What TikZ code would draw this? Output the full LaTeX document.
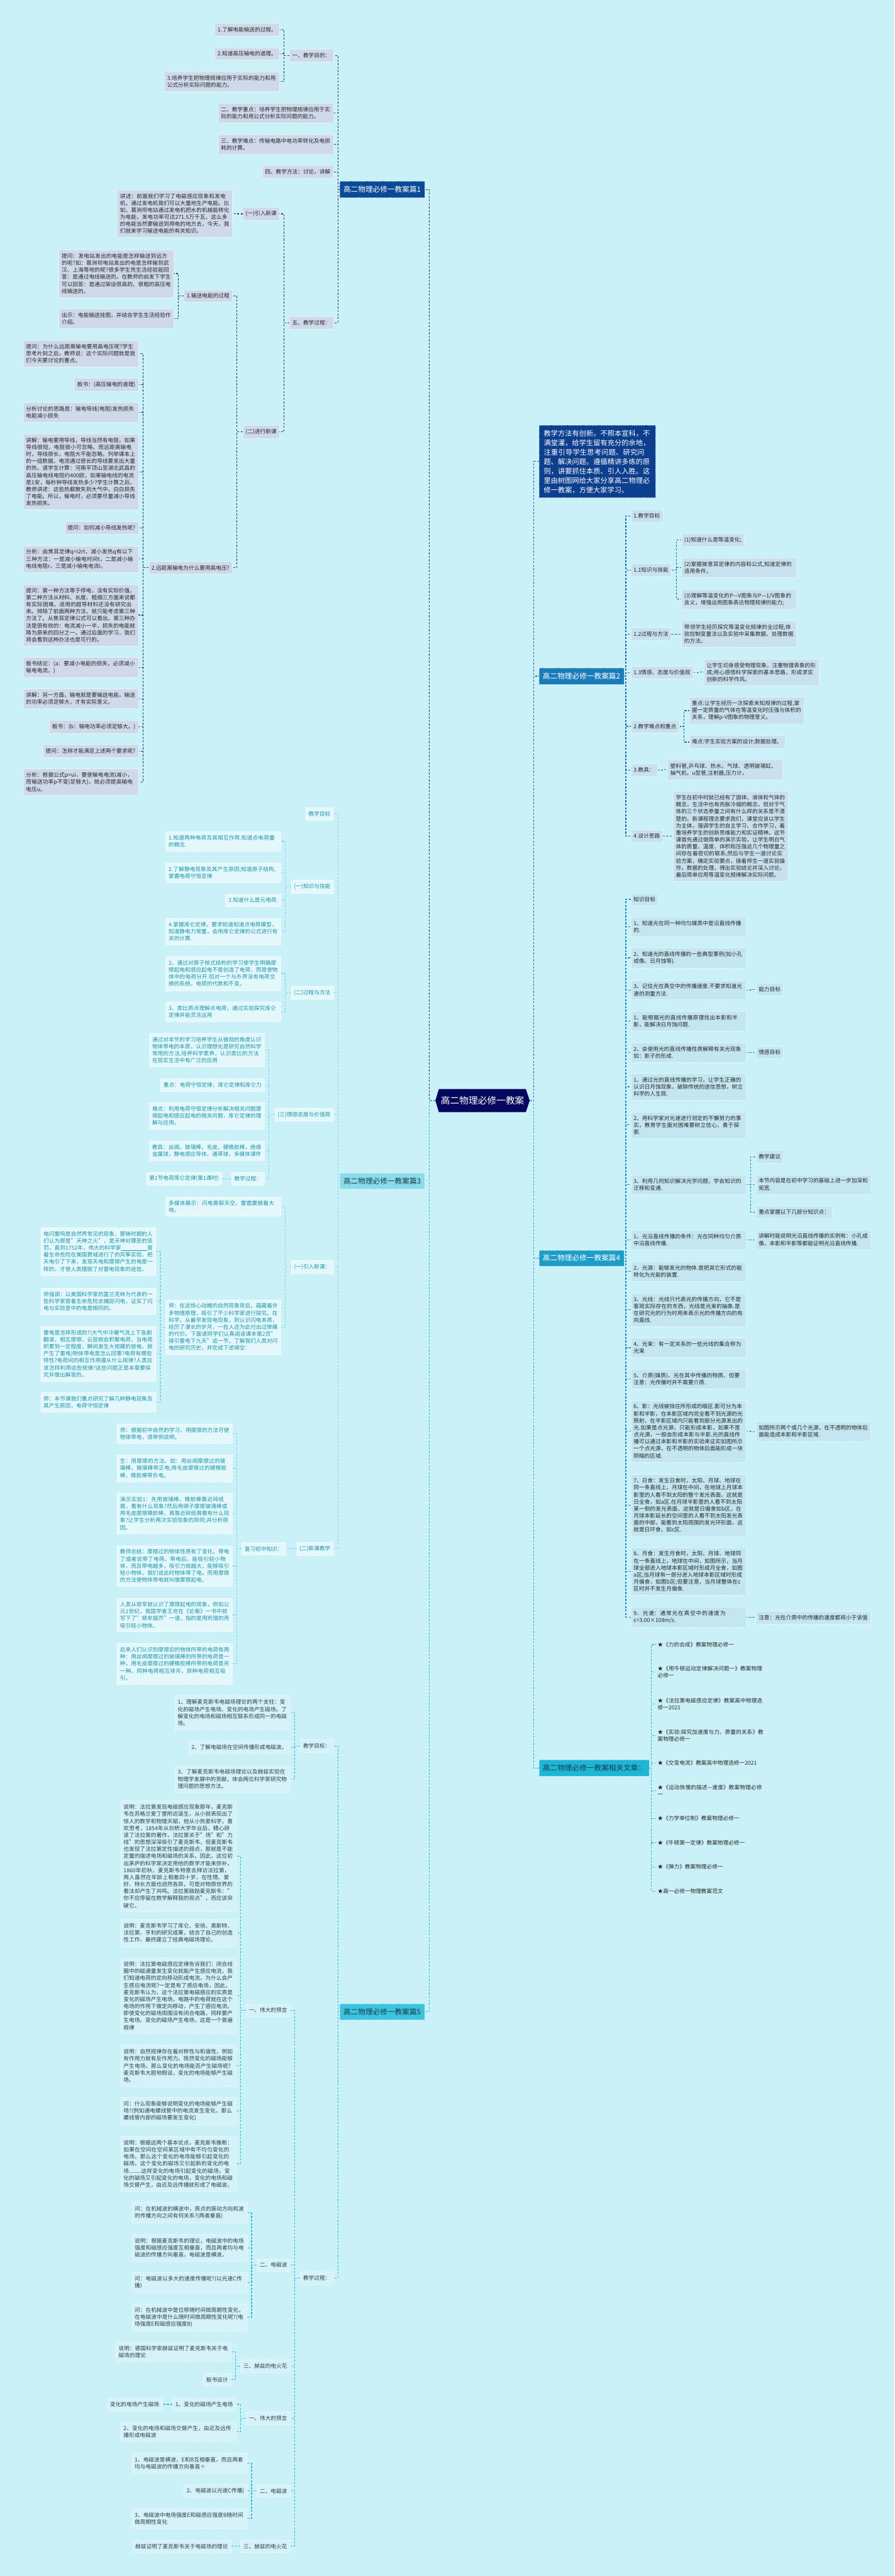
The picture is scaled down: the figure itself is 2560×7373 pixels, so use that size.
\documentclass[tikz,border=0pt]{standalone}
\usepackage{fontspec}
\setmainfont{Noto Sans CJK SC}
\XeTeXlinebreaklocale "zh"
\XeTeXlinebreakskip=0pt plus 1pt
\usetikzlibrary{calc}
\definecolor{bgc}{HTML}{CBF1F8}
\definecolor{n1}{HTML}{1E3A66}
\definecolor{n2}{HTML}{1F6A9E}
\definecolor{n3}{HTML}{7CD2E2}
\definecolor{n4}{HTML}{1B8DB8}
\definecolor{n5}{HTML}{35B5CF}
\definecolor{n6}{HTML}{2AB1CE}
\definecolor{f1}{HTML}{CFD9EA}
\definecolor{f2}{HTML}{C9E1EE}
\definecolor{f3}{HTML}{E4F8FB}
\definecolor{f4}{HTML}{C3E6F0}
\definecolor{f5}{HTML}{D5F2F8}
\definecolor{x3}{HTML}{1A93A8}
\definecolor{x5}{HTML}{2B3F47}
\definecolor{xd}{HTML}{262626}
\definecolor{lab1}{HTML}{0B4A96}
\definecolor{lab2}{HTML}{1B7BB8}
\definecolor{lab3}{HTML}{8BDBEA}
\definecolor{lab4}{HTML}{1C9DC7}
\definecolor{lab5}{HTML}{3CC3DE}
\definecolor{lab6}{HTML}{1EB6D6}
\definecolor{labt}{HTML}{163E4C}
\definecolor{descf}{HTML}{0D3F8E}
\definecolor{ctr}{HTML}{06075E}
\pgfdeclarelayer{back}
\pgfdeclarelayer{lines}
\pgfsetlayers{back,lines,main}
\newcommand{\fs}{\fontsize{15.6pt}{20.1pt}\selectfont}
\newcommand{\lnk}[3]{\draw[#1] (#2.west) -| ([xshift=13pt]#3.east) -- (#3.east);}
\newcommand{\rnk}[3]{\draw[#1] (#2.east) -| ([xshift=-14pt]#3.west) -- (#3.west);}
\begin{document}
\begin{tikzpicture}[x=1pt,y=-1pt,
  box/.style={rectangle, inner xsep=8pt, inner ysep=10.5pt, align=left, font=\fs, line width=0.7pt, dash pattern=on 3pt off 2pt},
  w/.style={text width=313pt},
  t1/.style={box, fill=f1, draw=white!70!f1, text=xd, anchor=east},
  t2/.style={box, fill=f2, draw=white!70!f2, text=xd, anchor=west},
  t3/.style={box, fill=f3, draw=white, text=x3, anchor=east},
  t4/.style={box, fill=f4, draw=white!70!f4, text=xd, anchor=west},
  t5/.style={box, fill=f5, draw=white!70!f5, text=x5, anchor=east},
  rt/.style={rectangle, inner xsep=4pt, inner ysep=4pt, align=left, font=\fs, text=xd, anchor=west, text width=306pt},
  lab/.style={rectangle, inner xsep=11pt, minimum height=46pt, font=\fontsize{21pt}{26pt}\selectfont, line width=0.8pt, dash pattern=on 3pt off 2pt},
  ln/.style={line width=2pt, dash pattern=on 6pt off 4pt},
  l1/.style={ln, draw=n1}, l2/.style={ln, draw=n2}, l3/.style={ln, draw=n3},
  l4/.style={ln, draw=n4}, l5/.style={ln, draw=n5}, l6/.style={ln, draw=n6}
]
\begin{pgfonlayer}{back}
\fill[bgc] (0,0) rectangle (2560,7373);
\end{pgfonlayer}
\useasboundingbox (0,0) rectangle (2560,7373);

% ---------- centre ----------
\fill[ctr] (1246,3150) -- (1256,3117) -- (1505,3117) -- (1516,3150) -- (1505,3183) -- (1256,3183) -- cycle;
\node[minimum width=270pt, minimum height=66pt, text=white, font=\fontsize{26.5pt}{30pt}\selectfont] (cn) at (1381,3150) {高二物理必修一教案};

% ---------- branch labels ----------
\node[lab, fill=lab1, draw=white!60!lab1, text=white, anchor=east] (P1) at (1216,542) {高二物理必修一教案篇1};
\node[lab, fill=lab3, draw=white!60!lab3, text=labt, anchor=east] (P3) at (1216,3380) {高二物理必修一教案篇3};
\node[lab, fill=lab5, draw=white!60!lab5, text=labt, anchor=east] (P5) at (1216,5758) {高二物理必修一教案篇5};
\node[rectangle, fill=descf, draw=white!55!descf, dash pattern=on 3pt off 2pt, line width=0.8pt, text=white, font=\fontsize{20.2pt}{27pt}\selectfont, text width=306pt, inner xsep=14pt, inner ysep=13pt, align=left, anchor=west] (desc) at (1542,1321) {教学方法有创新。不照本宣科，不满堂灌，给学生留有充分的余地，注重引导学生思考问题、研究问题、解决问题。遵循精讲多练的原则，讲要抓住本质、引人入胜。这里由树图网给大家分享高二物理必修一教案，方便大家学习。};
\node[lab, fill=lab2, draw=white!60!lab2, text=white, anchor=west] (P2) at (1542,1935) {高二物理必修一教案篇2};
\node[lab, fill=lab4, draw=white!60!lab4, text=white, anchor=west] (P4) at (1542,3601) {高二物理必修一教案篇4};
\node[lab, fill=lab6, draw=white!60!lab6, text=labt, anchor=west] (P6) at (1542,5060) {高二物理必修一教案相关文章：};

% ---------- 篇1 ----------
\node[t1] (a1) at (954,159) {一、教学目的：};
\node[t1,w] (a2) at (954,323.5) {二、教学重点：培养学生把物理规律应用于实际的能力和用公式分析实际问题的能力。};
\node[t1,w] (a3) at (954,413) {三、教学难点：传输电路中电功率转化及电损耗的计算。};
\node[t1] (a4) at (954,492) {四、教学方法：讨论，讲解};
\node[t1] (a5) at (954,924) {五、教学过程：};
\node[t1] (a1a) at (800,85) {1.了解电能输送的过程。};
\node[t1] (a1b) at (800,154) {2.知道高压输电的道理。};
\node[t1,w] (a1c) at (800,233.5) {3.培养学生把物理规律应用于实际的能力和用公式分析实际问题的能力。};
\node[t1] (a5a) at (800,612) {(一)引入新课};
\node[t1] (a5b) at (800,1236) {(二)进行新课};
\node[t1,w] (a5a1) at (665,611.5) {讲述：前面我们学习了电磁感应现象和发电机，通过发电机我们可以大量地生产电能。比如，葛洲坝电站通过发电机把水的机械能转化为电能，发电功率可达271.5万千瓦，这么多的电能当然要输送到用电的地方去，今天，我们就来学习输送电能的有关知识。};
\node[t1] (a5b1) at (665,847) {1.输送电能的过程};
\node[t1] (a5b2) at (665,1625) {2.远距离输电为什么要用高电压?};
\node[t1,w] (b1) at (498,783) {提问：发电站发出的电能是怎样输送到远方的呢?如：葛洲坝电站发出的电是怎样输到武汉、上海等地的呢?很多学生凭生活经验能回答：是通过电线输送的。在教师的启发下学生可以回答：是通过架设很高的、很粗的高压电线输送的。};
\node[t1,w] (b2) at (498,912.5) {出示：电能输送挂图，并结合学生生活经验作介绍。};
\node[t1,w] (c1) at (396,1012) {提问：为什么远距离输电要用高电压呢?学生思考片刻之后，教师说：这个实际问题就是我们今天要讨论的重点。};
\node[t1] (c2) at (396,1101) {板书：(高压输电的道理)};
\node[t1,w] (c3) at (396,1180.5) {分析讨论的思路是：输电导线(电阻)发热损失电能减小损失};
\node[t1,w] (c4) at (396,1350.5) {讲解：输电要用导线，导线当然有电阻，如果导线很短，电阻很小可忽略，而远距离输电时，导线很长，电阻大不能忽略。列举课本上的一组数据。电流通过很长的导线要发出大量的热，请学生计算：河南平顶山至湖北武昌的高压输电线电阻约400欧，如果输电线的电流是1安，每秒钟导线发热多少?学生计算之后，教师讲述：这些热都散失到大气中，白白损失了电能。所以，输电时，必须要尽量减小导线发热损失。};
\node[t1] (c5) at (396,1510.5) {提问：如何减小导线发热呢?};
\node[t1,w] (c6) at (396,1600) {分析：由焦耳定律q=i2rt，减小发热q有以下三种方法：一是减小输电时间t，二是减小输电线电阻r，三是减小输电电流i。};
\node[t1,w] (c7) at (396,1760.5) {提问：第一种方法等于停电，没有实际价值。第二种方法从材料、长度、粗细三方面来说都有实际困难。适用的超导材料还没有研究出来。排除了前面两种方法，就只能考虑第三种方法了。从焦耳定律公式可以看出。第三种办法是很有效的：电流减小一半，损失的电能就降为原来的四分之一。通过后面的学习，我们将会看到这种办法也是可行的。};
\node[t1,w] (c8) at (396,1910.5) {板书结论：(a：要减小电能的损失，必须减小输电电流。)};
\node[t1,w] (c9) at (396,2000) {讲解：另一方面，输电就是要输送电能，输送的功率必须足够大，才有实际意义。};
\node[t1] (c10) at (396,2080) {板书：(b：输电功率必须足够大。)};
\node[t1] (c11) at (396,2149.5) {提问：怎样才能满足上述两个要求呢?};
\node[t1,w] (c12) at (396,2238.5) {分析：根据公式p=ui，要使输电电流i减小，而输送功率p不变(足够大)，就必须提高输电电压u。};

% ---------- 篇3 ----------
\node[t3] (d0) at (954,2329) {教学目标};
\node[t3] (d1) at (954,2537) {(一)知识与技能};
\node[t3] (d2) at (954,2841) {(二)过程与方法};
\node[t3] (d3) at (954,3190) {(三)情感态度与价值观};
\node[t3] (d4) at (954,3626) {(一)引入新课：};
\node[t3] (d5) at (954,4433) {(二)新课教学};
\node[t3,w] (d1a) at (804,2408.5) {1.知道两种电荷及其相互作用.知道点电荷量的概念.};
\node[t3,w] (d1b) at (804,2497.5) {2.了解静电现象及其产生原因;知道原子结构,掌握电荷守恒定律};
\node[t3] (d1c) at (804,2577) {3.知道什么是元电荷.};
\node[t3,w] (d1d) at (804,2666) {4.掌握库仑定律，要求知道知道点电荷模型，知道静电力常量，会用库仑定律的公式进行有关的计算.};
\node[t3,w] (d2a) at (804,2786.5) {2、通过对原子核式结构的学习使学生明确摩擦起电和感应起电不是创造了电荷，而是使物体中的电荷分开.但对一个与外界没有电荷交换的系统，电荷的代数和不变。};
\node[t3,w] (d2b) at (804,2895.5) {3、类比质点理解点电荷，通过实验探究库仑定律并能灵活运用};
\node[t3,w] (d3a) at (757,3005.5) {通过对本节的学习培养学生从微观的角度认识物体带电的本质，认识理想化是研究自然科学常用的方法,培养科学素养，认识类比的方法在现实生活中有广泛的应用};
\node[t3] (d3b) at (757,3106) {重点：电荷守恒定律，库仑定律和库仑力};
\node[t3,w] (d3c) at (757,3194) {难点：利用电荷守恒定律分析解决相关问题摩擦起电和感应起电的相关问题，库仑定律的理解与应用。};
\node[t3,w] (d3d) at (757,3293) {教具：丝绸，玻璃棒，毛皮，硬橡胶棒，绝缘金属球，静电感应导体，通草球，多媒体课件};
\node[t3] (d3e) at (757,3373.5) {教学过程：};
\node[t3] (d3e1) at (635,3373.5) {第1节电荷库仑定律(第1课时)};
\node[t3,w] (d4a) at (804,3453) {多媒体展示：闪电撕裂天空，雷霆震撼着大地。};
\node[t3,w] (d4b) at (804,3798.5) {师：在这惊心动魄的自然现象背后，蕴藏着许多物理原理，吸引了不少科学家进行探究。在科学，从最早发现电现象，到认识闪电本质，经历了漫长的岁月，一些人还为此付出过惨痛的代价。下面请同学们认真阅读课本第2页"接引雷电下九天"这一节，了解我们人类对闪电的研究历史，并完成下述填空：};
\node[t3,w] (d4b1) at (446,3582) {电闪雷鸣是自然界常见的现象，蒙昧时期的人们认为那是"天神之火"，是天神对罪恶的惩罚，直到1752年，伟大的科学家\underline{\hspace{75pt}}冒着生命危险在美国费城进行了的风筝实验，把天电引了下来，发现天电和摩擦产生的电是一样的，才使人类摆脱了对雷电现象的迷信。};
\node[t3,w] (d4b2) at (446,3724.5) {师强调：以美国科学家的富兰克林为代表的一些科学家冒着生命危险去捕捉闪电，证实了闪电与实验室中的电是相同的。};
\node[t3,w] (d4b3) at (446,3874.5) {雷电是怎样形成的?(大气中冷暖气流上下急剧翻滚，相互摩擦，云层就会积聚电荷，当电荷积累到一定程度，瞬间发生大规模的放电，就产生了雷电)物体带电是怎么回事?电荷有哪些特性?电荷间的相互作用遵从什么规律?人类应该怎样利用这些规律?这些问题正是本章要探究并做出解答的。};
\node[t3,w] (d4b4) at (446,4013.5) {师：本节课我们重点研究了解几种静电现象及其产生原因，电荷守恒定律};
\node[t3] (d5a) at (818,4433) {复习初中知识：};
\node[t3,w] (d5a1) at (665,4103) {师：根据初中自然的学习，用摩擦的方法可使物体带电，请举例说明。};
\node[t3,w] (d5a2) at (665,4202.5) {生：用摩擦的方法。如：用丝绸摩擦过的玻璃棒，玻璃棒带正电;用毛皮摩擦过的硬橡胶棒，橡胶棒带负电。};
\node[t3,w] (d5a3) at (665,4331.5) {演示实验1：先用玻璃棒、橡胶棒靠近碎纸屑，看有什么现象?然后用绸子摩擦玻璃棒或用毛皮摩擦橡胶棒，再靠近碎纸屑看有什么现象?让学生分析两次实验现象的异同;并分析原因。};
\node[t3,w] (d5a4) at (665,4482) {教师总结：摩擦过的物体性质有了变化，带电了或者说带了电荷。带电后，能吸引轻小物体，而且带电越多，吸引力就越大，能够吸引轻小物体，我们说此时物体带了电。而用摩擦的方法使物体带电就叫做摩擦起电。};
\node[t3,w] (d5a5) at (665,4622.5) {人类从很早就认识了摩擦起电的现象，例如公元1世纪，我国学者王充在《论衡》一书中就写下了"顿牟掇芥"一语，指的是用玳瑁的壳吸引轻小物体。};
\node[t3,w] (d5a6) at (665,4762) {后来人们认识到摩擦后的物体所带的电荷有两种：用丝绸摩擦过的玻璃棒的所带的电荷是一种，用毛皮摩擦过的硬橡胶棒所带的电荷是另一种。同种电荷相互排斥，异种电荷相互吸引。};

% ---------- 篇5 ----------
\node[t5] (e1) at (954,4997) {教学目标：};
\node[t5] (e2) at (954,6520) {教学过程：};
\node[t5,w] (e1a) at (830,4902) {1、理解麦克斯韦电磁场理论的两个支柱：变化的磁场产生电场、变化的电场产生磁场。了解变化的电场和磁场相互联系形成同一的电磁场。};
\node[t5] (e1b) at (830,5001.5) {2、了解电磁场在空间传播形成电磁波。};
\node[t5,w] (e1c) at (830,5092) {3、了解麦克斯韦电磁场理论以及赫兹实验在物理学发展中的贡献。体会两位科学家研究物理问题的思想方法。};
\node[t5] (f1) at (830,5754) {一、伟大的预言};
\node[t5] (f2) at (830,6483) {二、电磁波};
\node[t5] (f3) at (830,6772) {三、赫兹的电火花};
\node[t5] (f4) at (830,6921.5) {一、伟大的预言};
\node[t5] (f5) at (830,7129.5) {二、电磁波};
\node[t5] (f6) at (830,7288) {三、赫兹的电火花};
\node[t5,w] (f1a) at (675,5313) {说明：法拉第发现电磁感应现象那年，麦克斯韦在苏格兰爱丁堡附近诞生，从小就表现出了惊人的数学和物理天赋，他从小热爱科学，喜欢思考，1854年从剑桥大学毕业后，精心研读了法拉第的著作，法拉第关于"场"和"力线"的思想深深吸引了麦克斯韦，但麦克斯韦也发现了法拉第定性描述的弱点，那就是不能定量的描述电场和磁场的关系。因此，这位初出茅庐的科学家决定用他的数学才能来弥补。1860年初秋，麦克斯韦特意去拜访法拉第，两人虽然在年龄上相差四十岁，在性情、爱好、特长方面也迥然各异，可是对物质世界的看法却产生了共鸣。法拉第鼓励麦克斯韦："你不应停留在数学解释我的观点"，而应该突破它。};
\node[t5,w] (f1b) at (675,5532.5) {说明：麦克斯韦学习了库仑、安培、奥斯特、法拉第、亨利的研究成果，结合了自己的创造性工作，最终建立了经典电磁场理论。};
\node[t5,w] (f1c) at (675,5712.5) {说明：法拉第电磁感应定律告诉我们：闭合线圈中的磁通量发生变化就能产生感应电流，我们知道电荷的定向移动形成电流，为什么会产生感应电流呢?一定是有了感应电场，因此，麦克斯韦认为，这个法拉第电磁感应的实质是变化的磁场产生电场，电路中的电荷就在这个电场的作用下做定向移动，产生了感应电流。即使变化的磁场周围没有闭合电路，同样要产生电场。变化的磁场产生电场，这是一个普遍规律};
\node[t5,w] (f1d) at (675,5912.5) {说明：自然规律存在着对称性与和谐性，例如有作用力就有反作用力。既然变化的磁场能够产生电场，那么变化的电场能否产生磁场呢?麦克斯韦大胆地假设，变化的电场能够产生磁场。};
\node[t5,w] (f1e) at (675,6042.5) {问：什么现象能够说明变化的电场能够产生磁场?(例如通电螺线管中的电流发生变化，那么螺线管内部的磁场要发生变化)};
\node[t5,w] (f1f) at (675,6193.5) {说明：根据这两个基本论点，麦克斯韦推断：如果在空间在空间某区域中有不均匀变化的电场，那么这个变化的电场能够引起变化的磁场，这个变化的磁场又引起新的变化的电场........这样变化的电场引起变化的磁场，变化的磁场又引起变化的电场，变化的电场和磁场交替产生，由近及远传播就形成了电磁波。};
\node[t5,w] (f2a) at (707,6333.5) {问：在机械波的横波中，质点的振动方向和波的传播方向之间有何关系?(两者垂直)};
\node[t5,w] (f2b) at (707,6433.5) {说明：根据麦克斯韦的理论，电磁波中的电场强度和磁感应强度互相垂直，而且两者均与电磁波的传播方向垂直，电磁波是横波。};
\node[t5,w] (f2c) at (707,6533) {问：电磁波以多大的速度传播呢?(以光速C传播)};
\node[t5,w] (f2d) at (707,6632) {问：在机械波中是位移随时间做周期性变化，在电磁波中是什么随时间做周期性变化呢?(电场强度E和磁感应强度B)};
\node[t5,w] (f3a) at (661,6731) {说明：德国科学家赫兹证明了麦克斯韦关于电磁场的理论};
\node[t5] (f3b) at (661,6811) {板书设计};
\node[t5] (f4a) at (675,6881.5) {1、变化的磁场产生电场};
\node[t5] (f4a1) at (464,6881.5) {变化的电场产生磁场};
\node[t5,w] (f4b) at (675,6960) {2、变化的电场和磁场交替产生，由近及远传播形成电磁波};
\node[t5,w] (f5a) at (707,7050.5) {1、电磁波是横波，E和B互相垂直，而且两者均与电磁波的传播方向垂直÷};
\node[t5] (f5b) at (707,7129.5) {2、电磁波以光速C传播)};
\node[t5,w] (f5c) at (707,7208.5) {3、电磁波中电场强度E和磁感应强度B随时间做周期性变化};
\node[t5] (f6a) at (661,7288) {赫兹证明了麦克斯韦关于电磁场的理论};

% ---------- 篇2 ----------
\node[t2] (g1) at (1805,1477) {1.教学目标};
\node[t2] (g2) at (1805,1631) {1.1知识与技能};
\node[t2] (g3) at (1805,1815) {1.2过程与方法};
\node[t2] (g4) at (1805,1925) {1.3情感、态度与价值观};
\node[t2] (g5) at (1805,2079) {2.教学难点和重点};
\node[t2] (g6) at (1805,2203.5) {3.教具：};
\node[t2] (g7) at (1805,2393) {4.设计思路};
\node[t2] (g2a) at (1950,1546) {(1)知道什么是等温变化;};
\node[t2,w] (g2b) at (1950,1625) {(2)掌握玻意耳定律的内容和公式,知道定律的适用条件。};
\node[t2,w] (g2c) at (1950,1715) {(3)理解等温变化的P—V图象与P—1/V图象的含义，增强运用图象表达物理规律的能力;};
\node[t2,w] (g3a) at (1950,1815) {带领学生经历探究等温变化规律的全过程,体验控制变量法以及实验中采集数据、处理数据的方法。};
\node[t2,w] (g4a) at (2014,1924) {让学生切身感受物理现象，注重物理表象的形成;用心感悟科学探索的基本思路，形成求实创新的科学作风。};
\node[t2,w] (g5a) at (1972,2034) {重点:让学生经历一次探索未知规律的过程,掌握一定质量的气体在等温变化时压强与体积的关系，理解p-V图象的物理意义。};
\node[t2] (g5b) at (1972,2124) {难点:学生实验方案的设计;数据处理。};
\node[t2,w] (g6a) at (1910,2203) {塑料管,乒乓球、热水，气球、透明玻璃缸、抽气机，u型管,注射器,压力计。};
\node[t2,w] (g7a) at (1926,2393.5) {学生在初中时就已经有了固体、液体和气体的概念，生活中也有热胀冷缩的概念，但对于气体的三个状态参量之间有什么样的关系是不清楚的。新课程理念要求我们，课堂应该以学生为主体，强调学生的自主学习、合作学习，着重培养学生的创新思维能力和实证精神。这节课首先通过做简单的演示实验，让学生明白气体的质量、温度、体积和压强这几个物理量之间存在着密切的联系;然后与学生一道讨论实验方案，确定实验要点，接着师生一道实验操作，数据的处理，得出实验结论并深入讨论，最后简单应用等温变化规律解决实际问题。};

% ---------- 篇4 ----------
\node[t4] (h1) at (1805,2574) {知识目标};
\node[t4,w] (h2) at (1805,2652.5) {1、知道光在同一种均匀媒质中是沿直线传播的.};
\node[t4,w] (h3) at (1805,2741.5) {2、知道光的直线传播的一些典型事例(如小孔成像、日月蚀等).};
\node[t4,w] (h4) at (1805,2833.5) {3、记住光在真空中的传播速度.不要求知道光速的测量方法.};
\node[t4] (h4a) at (2163,2832) {能力目标};
\node[t4,w] (h5) at (1805,2923) {1、能根据光的直线传播原理找出本影和半影，能解决日月蚀问题.};
\node[t4,w] (h6) at (1805,3012) {2、会使用光的直线传播性质解释有关光现象如：影子的形成.};
\node[t4] (h6a) at (2163,3012.5) {情感目标};
\node[t4,w] (h7) at (1805,3110.5) {1、通过光的直线传播的学习，让学生正确的认识日月蚀现象，破除传统的迷信思想，树立科学的人生观.};
\node[t4,w] (h8) at (1805,3220) {2、用科学家对光速进行测定的不懈努力的事实，教育学生面对困难要树立信心，勇于探索.};
\node[t4,w] (h9) at (1805,3390) {3、利用几何知识解决光学问题，学会知识的迁移和变通.};
\node[t4] (h9a) at (2163,3310.5) {教学建议};
\node[t4,w] (h9b) at (2163,3390) {本节内容是在初中学习的基础上进一步加深和拓宽.};
\node[t4] (h9c) at (2163,3469.5) {重点掌握以下几部分知识点：};
\node[t4,w] (h10) at (1805,3548.5) {1、光沿直线传播的条件：光在同种均匀介质中沿直线传播.};
\node[t4,w] (h10a) at (2163,3548.5) {讲解时能说明光沿直线传播的实例有：小孔成像，本影和半影等都能证明光沿直线传播.};
\node[t4,w] (h11) at (1805,3638.5) {2、光源：能够发光的物体.是把其它形式的能转化为光能的装置.};
\node[t4,w] (h12) at (1805,3748.5) {3、光线：光线只代表光的传播方向，它不是客观实际存在的东西，光线是光束的抽象.是在研究光的行为时用来表示光的传播方向的有向直线.};
\node[t4,w] (h13) at (1805,3857.5) {4、光束：有一定关系的一些光线的集合称为光束};
\node[t4,w] (h14) at (1805,3947) {5、介质(媒质)、光在其中传播的物质、但要注意：光传播时并不需要介质.};
\node[t4,w] (h15) at (1805,4096.5) {6、影：光线被挡住所形成的暗区.影可分为本影和半影，在本影区域内完全看不到光源的光照射，在半影区域内只能看到部分光源发出的光.如果是点光源，只能形成本影，如果不是点光源，一般会形成本影与半影.光的直线传播可以通过本影和半影的实验来证实如图所示一个点光源，在不透明的物体后面能形成一块阴暗的区域.};
\node[t4,w] (h15a) at (2163,4097) {如图所示两个或几个光源，在不透明的物体后面能造成本影和半影区域.};
\node[t4,w] (h16) at (1805,4308.5) {7、日食：发生日食时，太阳、月球、地球在同一条直线上，月球在中间，在地球上月球本影里的人看不到太阳的整个发光表面，这就是日全食，如a区.在月球半影里的人看不到太阳某一侧的发光表面，这就是日偏食如b区，在月球本影延长的空间里的人看不到太阳发光表面的中部，能看到太阳周围的发光环形面，这就是日环食，如c区.};
\node[t4,w] (h17) at (1805,4497.5) {8、月食：发生月食时，太阳、月球、地球同在一条直线上，地球在中间，如图所示，当月球全部进入地球本影区域时形成月全食，如图a区;当月球有一部分进入地球本影区域时形成月偏食，如图b区;但要注意，当月球整体在c区时并不发生月偏食.};
\node[t4,w] (h18) at (1805,4628) {9、光速：通常光在真空中的速度为c=3.00×108m/s.};
\node[t4] (h18a) at (2163,4629.5) {注意：光在介质中的传播的速度都将小于该值};

% ---------- 相关文章 ----------
\node[rt] (r1) at (1878,4707) {★《力的合成》教案物理必修一};
\node[rt] (r2) at (1878,4786) {★《用牛顿运动定律解决问题一》教案物理必修一};
\node[rt] (r3) at (1878,4877) {★《法拉第电磁感应定律》教案高中物理选修一2021};
\node[rt] (r4) at (1878,4967) {★《实验:探究加速度与力、质量的关系》教案物理必修一};
\node[rt] (r5) at (1878,5046) {★《交变电流》教案高中物理选修一2021};
\node[rt] (r6) at (1878,5125) {★《运动快慢的描述—速度》教案物理必修一};
\node[rt] (r7) at (1878,5205) {★《力学单位制》教案物理必修一};
\node[rt] (r8) at (1878,5274) {★《牛顿第一定律》教案物理必修一};
\node[rt] (r9) at (1878,5343) {★《弹力》教案物理必修一};
\node[rt] (r10) at (1878,5413) {★高一必修一物理教案范文};

% ---------- connectors ----------
\begin{pgfonlayer}{lines}
\lnk{l1}{cn}{P1}
\lnk{l3}{cn}{P3}
\lnk{l5}{cn}{P5}
\rnk{l2}{cn}{desc}
\rnk{l2}{cn}{P2}
\rnk{l4}{cn}{P4}
\rnk{l6}{cn}{P6}
% 篇1
\foreach \c in {a1,a2,a3,a4,a5} {\lnk{l1}{P1}{\c}}
\foreach \c in {a1a,a1b,a1c} {\lnk{l1}{a1}{\c}}
\foreach \c in {a5a,a5b} {\lnk{l1}{a5}{\c}}
\lnk{l1}{a5a}{a5a1}
\foreach \c in {a5b1,a5b2} {\lnk{l1}{a5b}{\c}}
\foreach \c in {b1,b2} {\lnk{l1}{a5b1}{\c}}
\foreach \c in {c1,c2,c3,c4,c5,c6,c7,c8,c9,c10,c11,c12} {\lnk{l1}{a5b2}{\c}}
% 篇3
\foreach \c in {d0,d1,d2,d3,d4,d5} {\lnk{l3}{P3}{\c}}
\foreach \c in {d1a,d1b,d1c,d1d} {\lnk{l3}{d1}{\c}}
\foreach \c in {d2a,d2b} {\lnk{l3}{d2}{\c}}
\foreach \c in {d3a,d3b,d3c,d3d,d3e} {\lnk{l3}{d3}{\c}}
\lnk{l3}{d3e}{d3e1}
\foreach \c in {d4a,d4b} {\lnk{l3}{d4}{\c}}
\foreach \c in {d4b1,d4b2,d4b3,d4b4} {\lnk{l3}{d4b}{\c}}
\lnk{l3}{d5}{d5a}
\foreach \c in {d5a1,d5a2,d5a3,d5a4,d5a5,d5a6} {\lnk{l3}{d5a}{\c}}
% 篇5
\foreach \c in {e1,e2} {\lnk{l5}{P5}{\c}}
\foreach \c in {e1a,e1b,e1c} {\lnk{l5}{e1}{\c}}
\foreach \c in {f1,f2,f3,f4,f5,f6} {\lnk{l5}{e2}{\c}}
\foreach \c in {f1a,f1b,f1c,f1d,f1e,f1f} {\lnk{l5}{f1}{\c}}
\foreach \c in {f2a,f2b,f2c,f2d} {\lnk{l5}{f2}{\c}}
\foreach \c in {f3a,f3b} {\lnk{l5}{f3}{\c}}
\foreach \c in {f4a,f4b} {\lnk{l5}{f4}{\c}}
\lnk{l5}{f4a}{f4a1}
\foreach \c in {f5a,f5b,f5c} {\lnk{l5}{f5}{\c}}
\lnk{l5}{f6}{f6a}
% 篇2
\foreach \c in {g1,g2,g3,g4,g5,g6,g7} {\rnk{l2}{P2}{\c}}
\foreach \c in {g2a,g2b,g2c} {\rnk{l2}{g2}{\c}}
\rnk{l2}{g3}{g3a}
\rnk{l2}{g4}{g4a}
\foreach \c in {g5a,g5b} {\rnk{l2}{g5}{\c}}
\rnk{l2}{g6}{g6a}
\rnk{l2}{g7}{g7a}
% 篇4
\foreach \c in {h1,h2,h3,h4,h5,h6,h7,h8,h9,h10,h11,h12,h13,h14,h15,h16,h17,h18} {\rnk{l4}{P4}{\c}}
\rnk{l4}{h4}{h4a}
\rnk{l4}{h6}{h6a}
\foreach \c in {h9a,h9b,h9c} {\rnk{l4}{h9}{\c}}
\rnk{l4}{h10}{h10a}
\rnk{l4}{h15}{h15a}
\rnk{l4}{h18}{h18a}
% 相关文章
\foreach \c in {r1,r2,r3,r4,r5,r6,r7,r8,r9,r10} {\rnk{l6}{P6}{\c}}
\end{pgfonlayer}
\end{tikzpicture}
\end{document}
